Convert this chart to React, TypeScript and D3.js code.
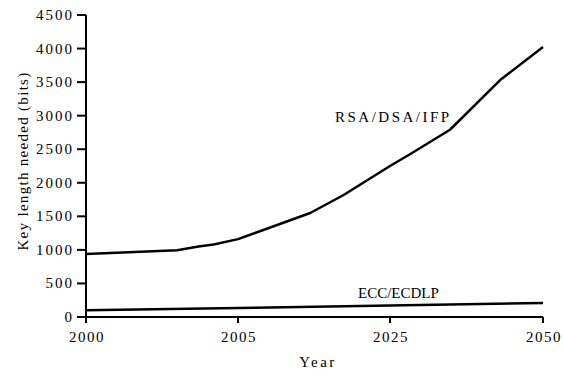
import React from "react";
import * as d3 from "d3";

const tickYears = [2000, 2005, 2025, 2050];
const yTicks = [0, 500, 1000, 1500, 2000, 2500, 3000, 3500, 4000, 4500];

const rsaYears = [2000, 2002.4, 2003, 2003.7, 2004.2, 2005, 2014.5, 2018.9, 2025, 2028.6, 2034.8, 2043, 2050];
const rsaBits = [940, 985, 995, 1050, 1080, 1160, 1550, 1818, 2250, 2444, 2790, 3531, 4023];

const eccYears = [2000, 2005, 2025, 2050];
const eccBits = [100, 134, 172, 210];

const W = 563;
const H = 375;

export default function App() {
  const x = d3.scaleLinear().domain(tickYears).range([86, 238, 390, 543]);
  const y = d3.scaleLinear().domain([0, 4500]).range([317, 15]);
  const line = d3
    .line<[number, number]>()
    .x((d) => x(d[0]))
    .y((d) => y(d[1]));
  const rsa = rsaYears.map((yr, i) => [yr, rsaBits[i]] as [number, number]);
  const ecc = eccYears.map((yr, i) => [yr, eccBits[i]] as [number, number]);
  const font = '"Liberation Serif", "DejaVu Serif", serif';
  return (
    <svg
      width={W}
      height={H}
      style={{ position: "absolute", left: 0, top: 0, background: "#fff", fontFamily: font }}
    >
      <path d={line(rsa) || ""} fill="none" stroke="#000" strokeWidth={2.5} strokeLinejoin="round" />
      <path d={line(ecc) || ""} fill="none" stroke="#000" strokeWidth={2.5} strokeLinejoin="round" />
      <line x1={86} x2={86} y1={y(4500)} y2={y(0)} stroke="#000" strokeWidth={2} />
      <line x1={86} x2={543} y1={y(0)} y2={y(0)} stroke="#000" strokeWidth={2} />
      {yTicks.map((t) => (
        <g key={t}>
          <line x1={77} x2={86} y1={y(t)} y2={y(t)} stroke="#000" strokeWidth={2} />
          <text x={74} y={y(t) + 5} textAnchor="end" fontSize={15} letterSpacing={2}>
            {t}
          </text>
        </g>
      ))}
      {tickYears.map((t) => (
        <g key={t}>
          <line x1={x(t)} x2={x(t)} y1={y(0)} y2={y(0) + 6} stroke="#000" strokeWidth={2} />
          <text x={x(t) + 1} y={342} textAnchor="middle" fontSize={15} letterSpacing={1.5}>
            {t}
          </text>
        </g>
      ))}
      <text x={318} y={367} textAnchor="middle" fontSize={15} letterSpacing={2.5}>
        Year
      </text>
      <text
        transform={`translate(28,${161}) rotate(-90)`}
        textAnchor="middle"
        fontSize={15}
        letterSpacing={1.3}
      >
        Key length needed (bits)
      </text>
      <text x={335} y={122} fontSize={15} letterSpacing={2.5}>
        RSA/DSA/IFP
      </text>
      <text x={358} y={298} fontSize={15}>
        ECC/ECDLP
      </text>
    </svg>
  );
}
